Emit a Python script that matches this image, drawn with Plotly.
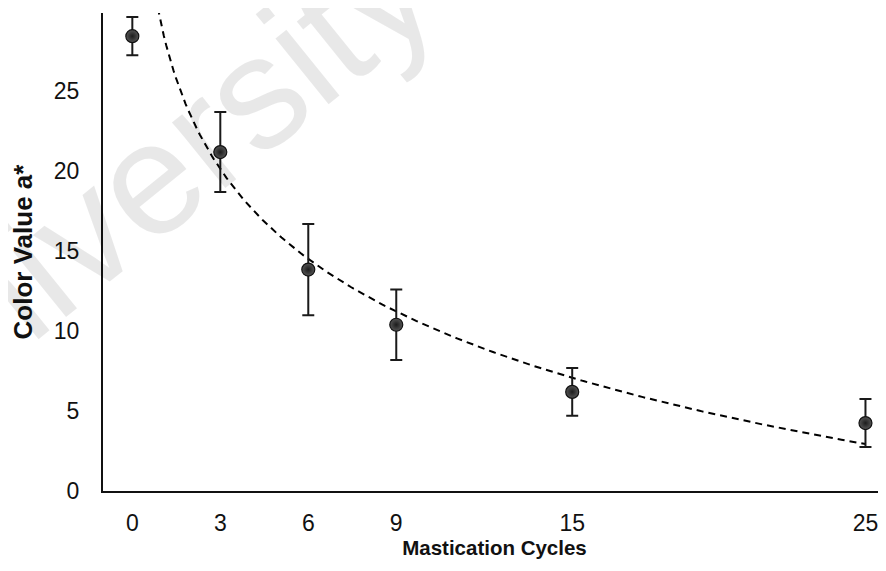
import numpy as np
import plotly.graph_objects as go

# Data
cycles = [0, 3, 6, 9, 15, 25]
color_a = [28.45, 21.2, 13.85, 10.4, 6.2, 4.25]
color_err = [1.2, 2.5, 2.85, 2.2, 1.5, 1.5]
x_ticks = [0, 3, 6, 9, 15, 25]
y_ticks = [0, 5, 10, 15, 20, 25]

# Logarithmic trendline fitted to the points with x > 0
xs = np.array(cycles[1:], dtype=float)
ys = np.array(color_a[1:], dtype=float)
b, a = np.polyfit(np.log(xs), ys, 1)
x_fit = np.linspace(0.5, 25, 300)
y_fit = a + b * np.log(x_fit)

fig = go.Figure()
fig.add_trace(go.Scatter(
    x=x_fit, y=y_fit, mode="lines",
    line=dict(color="black", width=2, dash="7px,5px"),
    hoverinfo="skip", showlegend=False,
))
fig.add_trace(go.Scatter(
    x=cycles, y=color_a, mode="markers",
    marker=dict(size=13, color="#555555",
                gradient=dict(type="radial", color="#1c1c1c"),
                line=dict(color="#111111", width=1.2)),
    error_y=dict(type="data", array=color_err, visible=True,
                 color="#1a1a1a", thickness=2, width=6),
    showlegend=False,
))

# faint watermark
fig.add_annotation(
    text="University", xref="paper", yref="paper",
    x=0.043, y=0.632, xanchor="center", yanchor="middle",
    showarrow=False, textangle=-39,
    font=dict(family="Liberation Sans, Arial", size=160, color="rgba(0,0,0,0.09)"),
)

axis_font = dict(family="Liberation Sans, Arial", size=23, color="#111111")
xtitle_font = dict(family="Liberation Sans, Arial", size=20.5, color="#111111")
ytitle_font = dict(family="Liberation Sans, Arial", size=26, color="#111111")

# page body has an 8px margin, so the figure is sized to fill the window
fig.update_layout(
    width=878, height=563,
    margin=dict(l=95, r=0, t=5, b=80),
    paper_bgcolor="white", plot_bgcolor="white",
    xaxis=dict(
        range=[-1.0, 25.7], tickvals=x_ticks, ticktext=[str(v) for v in x_ticks],
        showgrid=False, zeroline=False, showline=True, linecolor="#111111", linewidth=2,
        ticks="", ticklabelstandoff=10, tickfont=axis_font,
        title=dict(text="<b>Mastication Cycles</b>", font=xtitle_font, standoff=4),
    ),
    yaxis=dict(
        range=[0, 29.9], tickvals=y_ticks, ticktext=[str(v) for v in y_ticks],
        showgrid=False, zeroline=False, showline=True, linecolor="#111111", linewidth=2,
        ticks="", ticklabelstandoff=17, tickfont=axis_font,
        title=dict(text="<b>Color Value a*</b>", font=ytitle_font, standoff=15),
    ),
)

fig.write_html("out.html")
